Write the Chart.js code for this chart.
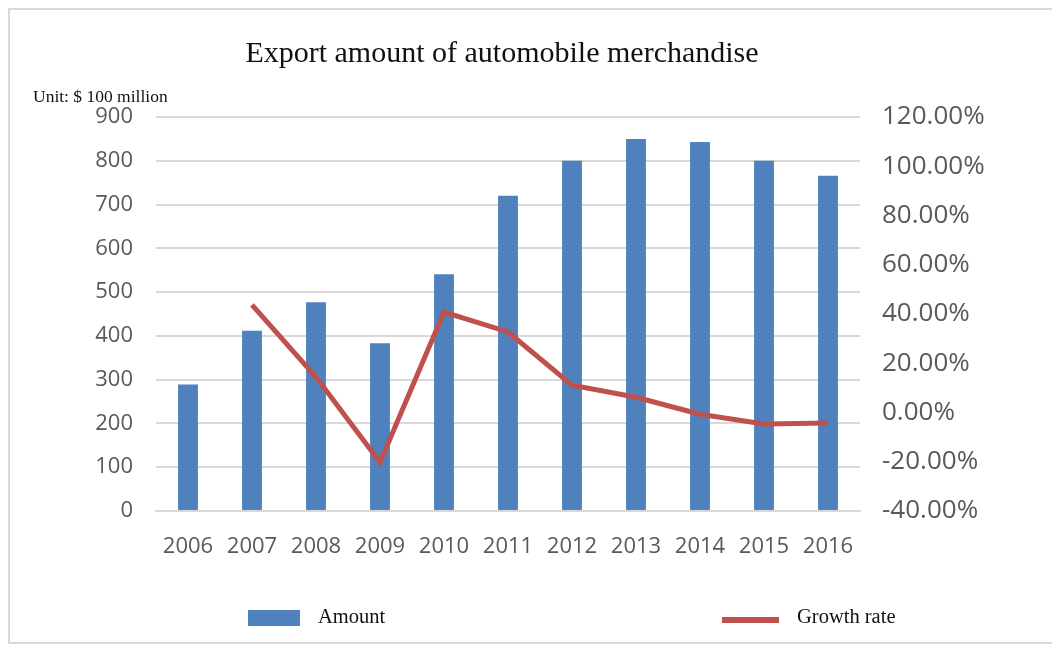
<!DOCTYPE html>
<html lang="en">
<head>
<meta charset="UTF-8" />
<title>Export amount of automobile merchandise</title>
<script src="https://cdn.jsdelivr.net/npm/chart.js"></script>
<style>
html, body { margin: 0; padding: 0; background: #fff; }
#wrap { position: relative; width: 1056px; height: 651px; overflow: hidden; }
#frame { position: absolute; left: 8px; top: 8px; width: 1044px; height: 636px; border: 2px solid #d9d9d9; box-sizing: border-box; border-right: none; }
#title { position: absolute; left: 0; width: 1004px; top: 35px; text-align: center; font-family: "Liberation Serif", serif; font-size: 30px; color: #111; }
#unit { position: absolute; left: 33px; top: 86px; font-family: "Liberation Serif", serif; font-size: 17.5px; color: #111; }
.leg { position: absolute; top: 605px; font-family: "Liberation Serif", serif; font-size: 20.5px; color: #111; }
.sw { position: absolute; }
canvas { position: absolute; left: 0; top: 0; }
</style>
</head>
<body>
<div id="wrap">
  <div id="frame"></div>
  <canvas id="myChart" width="1056" height="651"></canvas>
  <div id="title">Export amount of automobile merchandise</div>
  <div id="unit">Unit: $ 100 million</div>
  <div class="sw" style="left:248px;top:610px;width:52px;height:16px;background:#4f81bd;"></div>
  <div class="leg" style="left:318px;">Amount</div>
  <div class="sw" style="left:722px;top:617px;width:57px;height:6px;background:#c0504d;"></div>
  <div class="leg" style="left:797px;">Growth rate</div>
</div>

<script>
const years = ['2006','2007','2008','2009','2010','2011','2012','2013','2014','2015','2016'];
const amount = [289, 412, 477, 383, 541, 720, 800, 850, 843, 800, 766];
const growth = [null, 43.7, 14.4, -20.2, 40.8, 32.7, 11.1, 6.2, -0.7, -4.7, -4.3];

const tickColor = '#595959';
const gridColor = '#d9d9d9';

const ctx = document.getElementById('myChart').getContext('2d');
new Chart(ctx, {
  type: 'bar',
  data: {
    labels: years,
    datasets: [
      {
        type: 'line', label: 'Growth rate', data: growth, yAxisID: 'y1',
        borderColor: '#c0504d', backgroundColor: '#c0504d', borderWidth: 5,
        pointRadius: 0, tension: 0, order: 0
      },
      {
        label: 'Amount', data: amount, yAxisID: 'y',
        backgroundColor: '#4f81bd', barPercentage: 0.62, categoryPercentage: 0.5, order: 1
      }
    ]
  },
  options: {
    responsive: false,
    animation: false,
    layout: { padding: { top: 117, left: 0, right: 0, bottom: 0 } },
    plugins: { legend: { display: false }, tooltip: { enabled: false } },
    scales: {
      x: {
        grid: { display: false },
        border: { display: true, color: gridColor, width: 2 },
        ticks: { color: tickColor, font: { family: 'Open Sans', size: 22 }, padding: 15 },
        afterFit: s => { s.height = 140; }
      },
      y: {
        position: 'left', min: 0, max: 900,
        grid: { color: gridColor, lineWidth: 2, drawTicks: false },
        border: { display: false },
        ticks: { stepSize: 100, color: tickColor, font: { family: 'Open Sans', size: 22 }, padding: 23 },
        afterFit: s => { s.width = 156; }
      },
      y1: {
        position: 'right', min: -40, max: 120,
        grid: { display: false, drawTicks: false },
        border: { display: false },
        ticks: { stepSize: 20, color: tickColor, font: { family: 'Open Sans', size: 26 }, padding: 22,
          callback: v => v.toFixed(2) + '%' },
        afterFit: s => { s.width = 196; }
      }
    }
  }
});
</script>
</body>
</html>
